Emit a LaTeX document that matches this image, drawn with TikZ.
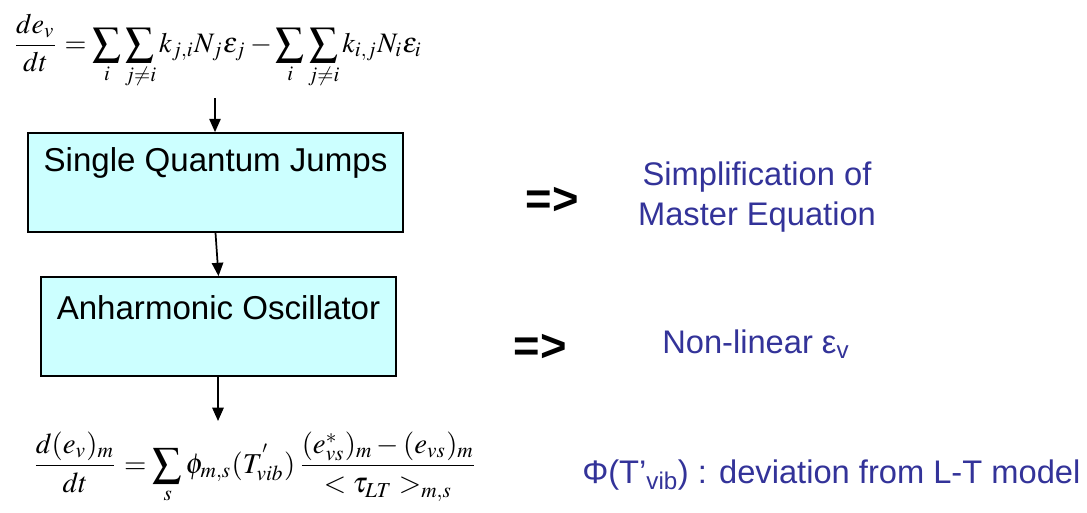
\documentclass[tikz,border=0pt]{standalone}
\usepackage{mathptmx}
\usepackage{graphicx}
\usepackage{fontspec}
\setsansfont{Liberation Sans}
\usetikzlibrary{arrows.meta}
\definecolor{boxfill}{HTML}{CCFFFF}
\definecolor{ppblue}{HTML}{333399}
\tikzset{
  qbox/.style={draw=black, line width=1.3pt, fill=boxfill, inner sep=0pt},
  boxtext/.style={font=\sffamily\fontsize{24.8}{29}\selectfont, inner sep=0pt},
  bluetext/.style={font=\sffamily\fontsize{24.5}{30.5}\selectfont, text=ppblue, align=center, inner sep=0pt},
  implies/.style={font=\sffamily\bfseries\fontsize{34}{40}\selectfont, inner sep=0pt},
  eqn/.style={inner sep=0pt},
  flow/.style={line width=1.3pt, -{Triangle[length=10pt,width=8.5pt]}}
}
\begin{document}
\begin{tikzpicture}[x=0.75pt,y=-0.75pt]
\path[use as bounding box, fill=white] (0,0) rectangle (1087,512);
% equations
\node[eqn] (eq1) at (217.5,51.5) {\resizebox{307pt}{!}{$\displaystyle \frac{de_v}{dt}=\sum_i\sum_{j\neq i}k_{j,i}N_j\varepsilon_j-\sum_i\sum_{j\neq i}k_{i,j}N_i\varepsilon_i$}};
\node[eqn] (eq2) at (255,468) {\resizebox{334pt}{!}{$\displaystyle \frac{d(e_v)_m}{dt}=\sum_s\phi_{m,s}(T^{'}_{vib})\,\frac{(e^{*}_{vs})_m-(e_{vs})_m}{<\tau_{LT}>_{m,s}}$}};
% boxes
\node[qbox, minimum width=281.25pt, minimum height=74.25pt] (b1) at (215.5,182.5) {};
\node[boxtext] (t1) at (215.5,163) {Single Quantum Jumps};
\node[qbox, minimum width=266.25pt, minimum height=74.25pt] (b2) at (218.5,326.5) {};
\node[boxtext] (t2) at (218.5,308) {Anharmonic Oscillator};
% connectors
\coordinate (c1) at (215,98);
\coordinate (c3) at (218,421);
\draw[flow] (c1) -- (b1.north -| c1);
\draw[flow] (b1.south) -- (b2.north);
\draw[flow] (b2.south -| c3) -- (c3);
% right side
\node[implies] (i1) at (552,201) {=>};
\node[bluetext] (s1) at (757,197) {Simplification of\\Master Equation};
\node[implies] (i2) at (540,348) {=>};
\node[bluetext, anchor=west] (s2) at (662,344) {Non-linear ε\textsubscript{v}};
\node[bluetext, anchor=west] (s3) at (582,475) {Φ(T’\textsubscript{vib}) : deviation from L-T model};
\end{tikzpicture}
\end{document}
